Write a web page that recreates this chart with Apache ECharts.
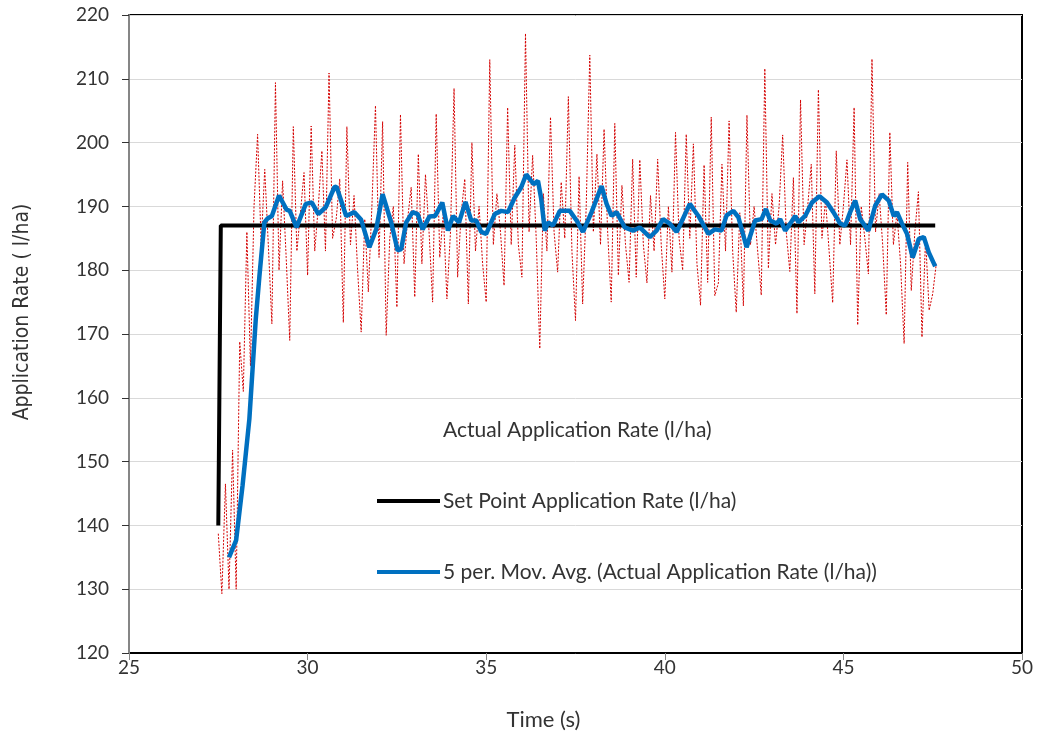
<!DOCTYPE html>
<html>
<head>
<meta charset="utf-8">
<script src="https://cdn.jsdelivr.net/npm/echarts@6/dist/echarts.min.js"></script>
<style>
  html, body { margin: 0; padding: 0; background: #fff; }
  #chart { width: 1037px; height: 736px; }
</style>
</head>
<body>
<div id="chart"></div>
<script>
// actual rate, sampled every 0.1 s from 27.5 s
const actualStart = 27.5
const actualStep = 0.1
const actualRate = [
  138.7, 129.3, 146.5, 130, 151.8, 130, 168.8, 161, 186, 165,
  190, 201.3, 184, 195.8, 184, 171.6, 209.4, 180, 194, 182,
  169, 202.5, 183, 189, 195.3, 179.2, 202.6, 183, 190, 198.7,
  183, 210.9, 185, 188, 194.3, 171.8, 202.5, 184, 191.7, 180,
  170.3, 188, 176.6, 190, 205.8, 182, 203.3, 169.8, 185, 190,
  174.2, 204.4, 181, 188, 193, 175.8, 198.2, 181, 195, 186,
  175, 204.5, 182, 189, 175.5, 186, 208.5, 178.9, 189, 194.3,
  174.7, 200, 183, 190, 181, 175, 213, 184, 192, 186,
  177.6, 205.5, 184, 199.6, 184, 178.9, 217.1, 186, 198, 185,
  167.7, 192, 183, 204, 186, 179.7, 193.8, 185, 207.2, 183,
  172.1, 194.7, 174.7, 190, 213.7, 186, 198.2, 184, 202.1, 186,
  175, 203, 179.2, 193.3, 184, 178.1, 197.4, 178.9, 197.3, 184,
  178, 191.7, 183, 197.4, 184, 175.5, 190, 179.7, 201.6, 185,
  180, 201.3, 185, 199.8, 181, 174.5, 196.5, 178.1, 204, 176,
  178, 196.6, 183, 203.4, 183, 173.4, 189, 174.4, 204.3, 184,
  190, 183, 176.1, 211.6, 180.3, 192, 184, 190, 201.2, 186,
  179.8, 194.5, 173.2, 206.7, 184, 190, 196.6, 176.3, 208.3, 185,
  191, 183, 174.9, 198.7, 184, 190, 197.3, 184, 205.5, 171.4,
  190, 185, 179.4, 213.1, 186, 192, 184, 173, 201.6, 184,
  189, 181, 168.5, 196.9, 176.8, 186, 192.3, 169.5, 185, 173.7,
  176.3, 181
]

const setTime = [27.5, 27.57, 47.57]
const setRate = [140, 187, 187]

const avgTime = [
  27.8, 28.0, 28.18, 28.37, 28.55, 28.65, 28.79, 28.88, 29.0, 29.2,
  29.41, 29.5, 29.69, 29.95, 30.12, 30.3, 30.51, 30.75, 30.81, 31.08,
  31.31, 31.5, 31.73, 31.92, 32.1, 32.34, 32.52, 32.62, 32.76, 32.94,
  33.08, 33.22, 33.41, 33.57, 33.77, 33.93, 34.07, 34.24, 34.42, 34.58,
  34.72, 34.86, 35.0, 35.24, 35.42, 35.61, 35.8, 35.98, 36.12, 36.33,
  36.45, 36.54, 36.64, 36.73, 36.87, 37.06, 37.34, 37.53, 37.71, 37.95,
  38.23, 38.37, 38.51, 38.65, 38.88, 39.11, 39.3, 39.58, 39.77, 39.95,
  40.14, 40.33, 40.42, 40.7, 40.94, 41.22, 41.4, 41.59, 41.73, 41.92,
  42.06, 42.29, 42.53, 42.71, 42.83, 42.95, 43.13, 43.23, 43.37, 43.51,
  43.65, 43.74, 43.93, 44.12, 44.33, 44.54, 44.72, 44.91, 45.05, 45.19,
  45.33, 45.47, 45.7, 45.89, 46.08, 46.27, 46.41, 46.5, 46.64, 46.78,
  46.94, 47.11, 47.25, 47.39, 47.57
]
const avgRate = [
  135, 137.7, 146.3, 156.7, 172.4, 179, 187.5, 188.1, 188.5, 191.7,
  189.5, 189.3, 186.7, 190.4, 190.6, 188.8, 189.9, 193, 193.1, 188.5,
  189.1, 187.9, 183.6, 186.4, 191.9, 187.5, 183.1, 183.3, 187.5, 189.1,
  188.8, 186.4, 188.4, 188.5, 190.6, 186.2, 188.5, 187.5, 190.7, 187.8,
  187.8, 186, 185.7, 188.8, 189.3, 189.1, 191.4, 193, 195, 193.5,
  194, 191.2, 186.2, 187.5, 187, 189.3, 189.3, 187.8, 186, 189.1,
  193.2, 190.4, 188.5, 189.1, 186.7, 186.2, 186.7, 185.2, 186.2, 188,
  187.3, 186, 187, 190.4, 188.5, 185.7, 186.4, 186.2, 188.6, 189.3,
  188.3, 183.6, 187.8, 188, 189.6, 187.8, 187.3, 188, 186.2, 187.3,
  188.5, 187.5, 188.5, 190.6, 191.6, 190.6, 189.1, 187.3, 187, 189.1,
  190.9, 188, 186.2, 190.1, 191.9, 190.9, 188.5, 189.1, 187.3, 185.7,
  182, 184.9, 185.2, 182.8, 180.6
]

const seriesNames = [
  'Actual Application Rate (l/ha)',
  'Set Point Application Rate (l/ha)',
  '5 per. Mov. Avg. (Actual Application Rate (l/ha))'
]

const font = 'Lato, "Open Sans", sans-serif'

const actualData = actualRate.map((v, i) => [actualStart + i * actualStep, v])
const setData = setTime.map((t, i) => [t, setRate[i]])
const avgData = avgTime.map((t, i) => [t, avgRate[i]])

var chart = echarts.init(document.getElementById('chart'))
var option = {
    animation: false,
    backgroundColor: '#fff',
    grid: {
        left: 129,
        right: 15,
        top: 15,
        bottom: 82,
        show: true,
        borderColor: '#000',
        borderWidth: 2
    },
    legend: {
        orient: 'vertical',
        left: 372,
        top: 413,
        itemWidth: 63,
        itemHeight: 4,
        itemGap: 47,
        icon: 'rect',
        textStyle: {
            fontFamily: font,
            fontSize: 21,
            color: '#333',
            lineHeight: 24,
            padding: [0, 0, 0, -2]
        },
        data: [
            { name: seriesNames[0], itemStyle: { opacity: 0 }, lineStyle: { opacity: 0 } },
            { name: seriesNames[1] },
            { name: seriesNames[2] }
        ]
    },
    xAxis: {
        type: 'value',
        min: 25,
        max: 50,
        interval: 5,
        name: 'Time (s)',
        nameLocation: 'middle',
        nameGap: 56,
        nameTextStyle: { fontFamily: font, fontSize: 22, color: '#333', padding: [0, 64, 0, 0] },
        axisLine: { lineStyle: { color: '#000', width: 1 } },
        axisTick: { inside: false, length: 7, lineStyle: { color: '#868686' } },
        axisLabel: { fontFamily: font, fontSize: 19, color: '#333', margin: 5 },
        splitLine: { show: false }
    },
    yAxis: {
        type: 'value',
        min: 120,
        max: 220,
        interval: 10,
        name: 'Application Rate ( l/ha)',
        nameLocation: 'middle',
        nameGap: 96,
        nameTextStyle: {
            fontFamily: '"DejaVu Sans Condensed", "Liberation Sans Narrow", sans-serif',
            fontSize: 21,
            color: '#333',
            padding: [0, 0, 0, 44]
        },
        axisLine: { show: true, lineStyle: { color: '#868686', width: 2 } },
        axisTick: { show: true, inside: false, length: 7, lineStyle: { color: '#333' } },
        axisLabel: { fontFamily: font, fontSize: 19, color: '#333', margin: 20 },
        splitLine: { show: true, lineStyle: { color: '#d9d9d9', width: 1 } }
    },
    series: [
        {
            name: seriesNames[0],
            type: 'line',
            data: actualData,
            showSymbol: false,
            color: '#cc0000',
            lineStyle: { color: '#d40000', width: 1, type: [2, 1.5] },
            z: 2
        },
        {
            name: seriesNames[1],
            type: 'line',
            data: setData,
            showSymbol: false,
            color: '#000',
            lineStyle: { color: '#000', width: 4 },
            z: 3
        },
        {
            name: seriesNames[2],
            type: 'line',
            data: avgData,
            showSymbol: false,
            color: '#0070c0',
            lineStyle: { color: '#0070c0', width: 4.5 },
            z: 4
        }
    ]
}
chart.setOption(option)
</script>
</body>
</html>
